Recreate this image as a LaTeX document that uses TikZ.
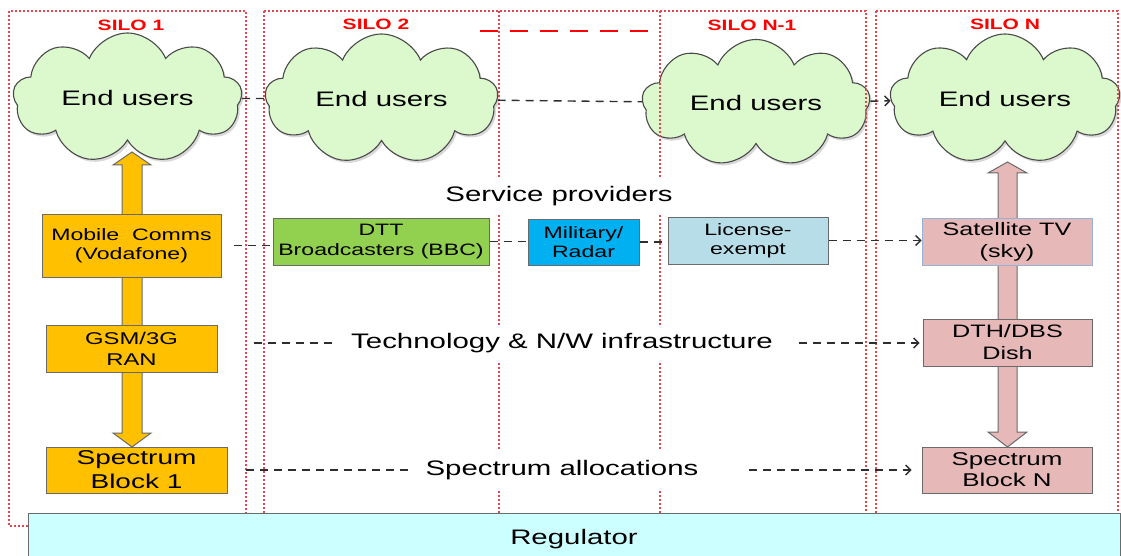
\documentclass[tikz,border=0pt]{standalone}
\usepackage{fontspec}
\setmainfont{Liberation Sans}[FakeStretch=1.4]
\usetikzlibrary{shapes.symbols,shadows,arrows.meta}

\definecolor{silored}{HTML}{E2474F}
\definecolor{boxedge}{HTML}{6A6A6A}
\definecolor{dashgray}{HTML}{2E2E2E}
\definecolor{orangefill}{HTML}{FFC000}
\definecolor{dttfill}{HTML}{92D050}
\definecolor{milfill}{HTML}{00B0F0}
\definecolor{licfill}{HTML}{B7DEE8}
\definecolor{pinkfill}{HTML}{E6B9B8}
\definecolor{satedge}{HTML}{95B3D7}
\definecolor{cloudfill}{HTML}{DCF8CD}
\definecolor{cloudedge}{HTML}{4A4A4A}
\definecolor{regfill}{HTML}{CCFFFF}

\newcommand\fsz[2]{\fontsize{#1}{#2}\selectfont}

\tikzset{
  siloframe/.style={draw=silored, line width=1.1pt, dash pattern=on 2pt off 2pt},
  silolabel/.style={text=red, font=\fsz{15}{18}\bfseries, inner sep=0pt},
  cloudnode/.style={cloud, cloud puffs=9, cloud puff arc=135, cloud ignores aspect,
    draw=cloudedge, line width=1.1pt, fill=cloudfill, inner sep=0pt,
    font=\fsz{21}{25},
    drop shadow={shadow xshift=2pt, shadow yshift=-2.5pt, opacity=0.3}},
  box/.style={draw=boxedge, line width=1pt, inner sep=0pt, align=center,
    font=\fsz{16.5}{19.5}},
  bigarrow/.style={draw=boxedge, line width=1pt},
  lab/.style={fill=white, inner sep=0pt, font=\fsz{21}{25}},
  dline/.style={draw=dashgray, line width=1.4pt, dash pattern=on 8pt off 6pt},
  darrow/.style={dline, -{Straight Barb[length=5pt,width=10pt,line width=1.4pt]}}
}

\begin{document}
\begin{tikzpicture}[x=1pt, y=-1pt]
\useasboundingbox (0,0) rectangle (1121,556);

% end-user clouds
\node[cloudnode, minimum width=229pt, minimum height=130pt] (c1) at (127.5,98) {End users};
\node[cloudnode, minimum width=233pt, minimum height=130pt] (c2) at (381.5,99) {End users};
\node[cloudnode, minimum width=228pt, minimum height=127pt] (c3) at (756,103) {End users};
\node[cloudnode, minimum width=230pt, minimum height=130pt] (c4) at (1005,99) {End users};

% silo frames and dividers
\draw[siloframe] (9,11) rectangle (246,526);
\draw[siloframe] (264,11) rectangle (866,526);
\draw[siloframe] (876,11) rectangle (1118,526);
\draw[siloframe] (499,11) -- (499,513);
\draw[siloframe] (660,11) -- (660,513);
\draw[red, line width=2.5pt, dash pattern=on 18pt off 12pt] (480,31) -- (655,31);

\node[silolabel] (s1) at (131,25) {SILO 1};
\node[silolabel] (s2) at (376,24) {SILO 2};
\node[silolabel] (s3) at (752,25) {SILO N-1};
\node[silolabel] (s4) at (1005,24) {SILO N};

% vertical block arrows through the stacks
\filldraw[bigarrow, fill=orangefill]
  (132,152) -- (151,165) -- (142,165) -- (142,433) -- (151,433) -- (132,447)
  -- (113,433) -- (122,433) -- (122,165) -- (113,165) -- cycle;
\filldraw[bigarrow, fill=pinkfill]
  (1007.5,162) -- (1027,173) -- (1017,173) -- (1017,432) -- (1027,432) -- (1007.5,447)
  -- (988,432) -- (998,432) -- (998,173) -- (988,173) -- cycle;

% service providers row
\node[box, fill=orangefill, minimum width=179pt, minimum height=63pt] (mob) at (131.5,245.5) {Mobile\ \ Comms\\(Vodafone)};
\node[box, fill=dttfill, minimum width=216pt, minimum height=47pt] (dtt) at (381,241.5) {DTT\\Broadcasters (BBC)};
\node[box, fill=milfill, minimum width=111pt, minimum height=46pt] (mil) at (583.5,242) {Military/\\Radar};
\node[box, fill=licfill, minimum width=160pt, minimum height=47pt] (lic) at (748,240.5) {License-\\exempt};
\node[box, fill=pinkfill, draw=satedge, minimum width=170pt, minimum height=47pt, font=\fsz{18}{22}] (sat) at (1007,241.5) {Satellite TV\\(sky)};

% technology row
\node[box, fill=orangefill, minimum width=171pt, minimum height=47pt, font=\fsz{17}{21}] (gsm) at (131.5,348.5) {GSM/3G\\RAN};
\node[box, fill=pinkfill, minimum width=169pt, minimum height=47pt, font=\fsz{18}{22}] (dth) at (1007.5,342.5) {DTH/DBS\\Dish};

% spectrum row
\node[box, fill=orangefill, minimum width=181pt, minimum height=46pt, font=\fsz{20}{24}] (sp1) at (136.5,470) {Spectrum\\Block 1};
\node[box, fill=pinkfill, minimum width=170pt, minimum height=46pt, font=\fsz{18.5}{21}] (spn) at (1007,470) {Spectrum\\Block N};

% layer captions
\node[lab, minimum width=270pt, minimum height=38pt] (svc) at (559,196) {Service providers};
\node[lab, minimum width=460pt, minimum height=35pt] (tech) at (562,343) {Technology \& N/W infrastructure};
\node[lab, minimum width=300pt, minimum height=38pt] (alloc) at (562,470) {Spectrum allocations};

% dashed links across the silos
\draw[dline] (c1) -- (c2);
\draw[dline] (c2) -- (c3);
\draw[darrow] (c3) -- (c4);

\draw[dline, shorten <=12pt] (mob.east) -- (mob.east -| dtt.west);
\draw[dline] (dtt.east) -- (dtt.east -| mil.west);
\draw[dline] (mil.east) -- (mil.east -| lic.west);
\draw[darrow] (lic.east) -- (lic.east -| sat.west);

\draw[dline, shorten <=36pt] (tech.west -| gsm.east) -- (tech.west);
\draw[darrow, shorten <=7pt, shorten >=3pt] (tech.east) -- (tech.east -| dth.west);

\draw[dline, shorten <=18pt] (alloc.west -| sp1.east) -- (alloc.west);
\draw[darrow, shorten <=37pt, shorten >=10pt] (alloc.east) -- (alloc.east -| spn.west);

% regulator base
\node[draw=boxedge, line width=1pt, fill=regfill, minimum width=1092pt, minimum height=52pt, inner sep=0pt, font=\fsz{21}{25}] (reg) at (574,539) {Regulator};
\end{tikzpicture}
\end{document}
